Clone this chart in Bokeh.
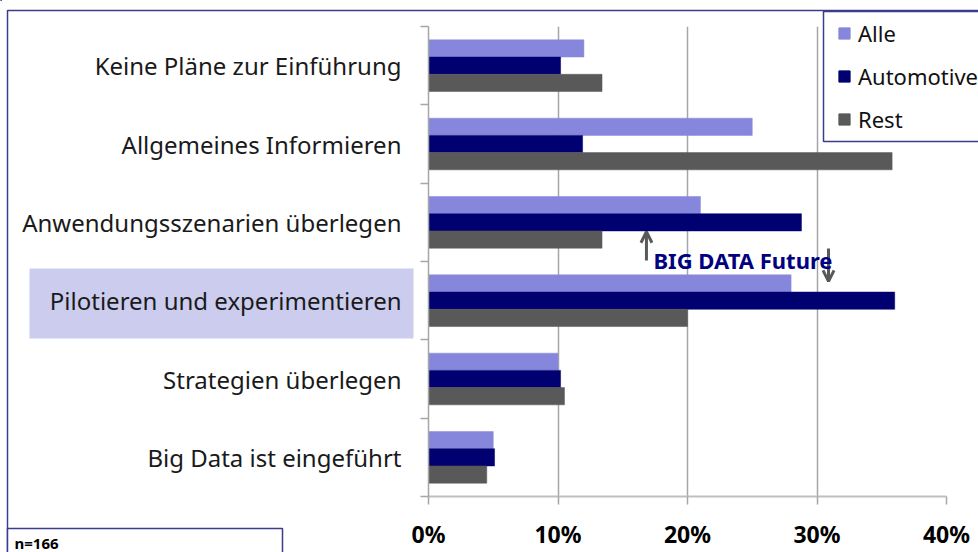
from bokeh.plotting import figure
from bokeh.models import (ColumnDataSource, Range1d, FixedTicker, NumeralTickFormatter,
                          Label, Arrow, OpenHead)
from bokeh.layouts import column
from bokeh.embed import file_html
from bokeh.resources import INLINE

categories = ["Keine Pläne zur Einführung", "Allgemeines Informieren",
              "Anwendungsszenarien überlegen", "Pilotieren und experimentieren",
              "Strategien überlegen", "Big Data ist eingeführt"]
alle = [12.0, 25.0, 21.0, 28.0, 10.0, 5.0]
automotive = [10.2, 11.9, 28.8, 36.0, 10.2, 5.1]
rest = [13.4, 35.8, 13.4, 20.0, 10.5, 4.5]
series_names = ["Alle", "Automotive", "Rest"]
x_ticks = [0, 0.1, 0.2, 0.3, 0.4]
sample_note = "n=166"

FONT = "Noto Sans"
W, H = 978, 552
NAVY_LINE = "#3c3c8c"
colors = ["#8686dc", "#000070", "#595959"]


def layer(**kw):
    f = figure(width=W, height=H, x_range=Range1d(0, W), y_range=Range1d(H, 0),
               x_axis_type=None, y_axis_type=None, output_backend="svg",
               toolbar_location=None, min_border=0, frame_align=False, **kw)
    f.outline_line_color = None
    return f


# ---------- background layer: page frame, highlight, sample box ----------
bg = layer()
bg.background_fill_color = "white"
bg.border_fill_color = "white"
bg.quad(left=[7], right=[1000], top=[10], bottom=[600], fill_color=None,
        line_color=NAVY_LINE, line_width=1.5)
bg.quad(left=[29], right=[413], top=[268], bottom=[338], fill_color="#ccccee",
        line_color=None)
bg.quad(left=[7], right=[282], top=[528], bottom=[600], fill_color="white",
        line_color=NAVY_LINE, line_width=1.5)
bg.add_layout(Label(x=14, y=542, text=sample_note, text_font=FONT,
                    text_font_style="bold", text_font_size="15px",
                    text_color="black", text_baseline="middle"))

# ---------- chart layer ----------
n = len(categories)
centers = [n - i - 0.5 for i in range(n)]

p = figure(width=W, height=H, x_range=Range1d(0, 0.4), y_range=Range1d(0, n),
           output_backend="svg", toolbar_location=None, frame_align=False,
           min_border_left=428, min_border_right=32, min_border_top=26, min_border_bottom=52)
p.outline_line_color = None
p.background_fill_alpha = 0
p.border_fill_alpha = 0
p.margin = (-H, 0, 0, 0)

offsets = [0.22, 0.0, -0.22]
for name, vals, col, off in zip(series_names, [alle, automotive, rest], colors, offsets):
    src = ColumnDataSource(dict(y=[c + off for c in centers], right=[v / 100 for v in vals]))
    p.hbar(y="y", left=0, right="right", height=0.22, source=src, fill_color=col,
           line_color=col, line_width=0.5)

xa = p.xaxis[0]
xa.ticker = FixedTicker(ticks=x_ticks)
xa.formatter = NumeralTickFormatter(format="0%")
xa.axis_line_color = "#bfbfbf"
xa.axis_line_width = 2
xa.major_tick_out = 8
xa.major_tick_in = 0
xa.major_tick_line_color = "#a6a6a6"
xa.major_tick_line_width = 1.5
xa.minor_tick_line_color = None
xa.major_label_text_font = FONT
xa.major_label_text_font_style = "bold"
xa.major_label_text_font_size = "23px"
xa.major_label_text_color = "black"
xa.major_label_standoff = 13

ya = p.yaxis[0]
ya.ticker = FixedTicker(ticks=centers, minor_ticks=list(range(n + 1)))
ya.major_label_overrides = {c: cat for c, cat in zip(centers, categories)}
ya.axis_line_color = "#a6a6a6"
ya.axis_line_width = 1.5
ya.major_tick_out = 0
ya.major_tick_in = 0
ya.minor_tick_out = 8
ya.minor_tick_in = 0
ya.minor_tick_line_color = "#a6a6a6"
ya.minor_tick_line_width = 1.5
ya.major_label_text_font = FONT
ya.major_label_text_font_size = "24px"
ya.major_label_text_color = "#1a1a1a"
ya.major_label_standoff = 19

p.xgrid.ticker = FixedTicker(ticks=x_ticks[1:])
p.xgrid.grid_line_color = "#a6a6a6"
p.xgrid.grid_line_width = 1.5
p.ygrid.visible = False

p.add_layout(Arrow(end=OpenHead(size=11, line_color="#595959", line_width=3),
                   x_start=0.1683, y_start=3.013, x_end=0.1683, y_end=3.38,
                   line_color="#595959", line_width=3))
p.add_layout(Arrow(end=OpenHead(size=11, line_color="#595959", line_width=3),
                   x_start=0.3089, y_start=3.165, x_end=0.3089, y_end=2.747,
                   line_color="#595959", line_width=3))
p.add_layout(Label(x=0.1737, y=3.013, text="BIG DATA Future", text_font=FONT,
                   text_font_style="bold", text_font_size="22px", text_color="#000080",
                   text_baseline="alphabetic", text_align="left"))

# ---------- top layer: legend (drawn over the 40% gridline) ----------
top = layer()
top.background_fill_alpha = 0
top.border_fill_alpha = 0
top.margin = (-H, 0, 0, 0)
# legend box (runs off the right edge)
top.quad(left=[823], right=[1000], top=[11], bottom=[141], fill_color="white",
         line_color=NAVY_LINE, line_width=1.5)
for name, col in zip(series_names, colors):
    # off-canvas stand-in renderer that only supplies the legend swatch
    top.hbar(y=[-1000], left=[0], right=[1], height=1, fill_color=col, line_color=col,
             legend_label=name)
lg = top.legend[0]
lg.location = (837, H - 134.5)
lg.border_line_color = None
lg.background_fill_alpha = 0
lg.label_text_font = FONT
lg.label_text_font_size = "22px"
lg.label_text_color = "#111111"
lg.glyph_width = 14
lg.glyph_height = 14
lg.label_height = 31
lg.label_standoff = 7
lg.padding = 0
lg.spacing = 12
lg.margin = 0

page = column(bg, p, top, spacing=0)
open("out.html", "w").write(file_html(page, INLINE))
